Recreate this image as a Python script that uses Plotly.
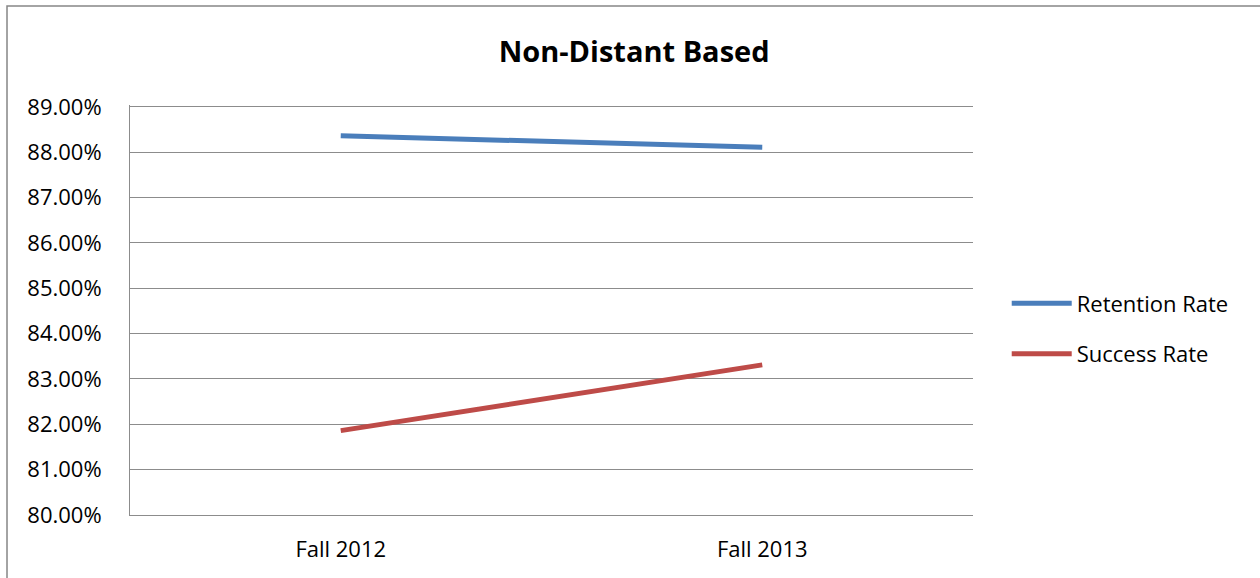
import plotly.graph_objs as go

# Daten
terms = ['Fall 2012', 'Fall 2013']
retention_rate = [0.8836, 0.8811]
success_rate = [0.8186, 0.8331]
y_ticks = [0.80, 0.81, 0.82, 0.83, 0.84, 0.85, 0.86, 0.87, 0.88, 0.89]

FONT = 'Open Sans, Noto Sans, sans-serif'
GRID = '#8c8c8c'

fig = go.Figure()

fig.add_trace(
    go.Scatter(
        x=terms,
        y=retention_rate,
        mode='lines',
        name='Retention Rate',
        legendgroup='a',
        line=dict(color='#4A7EBB', width=5)
    )
)

fig.add_trace(
    go.Scatter(
        x=terms,
        y=success_rate,
        mode='lines',
        name='Success Rate',
        legendgroup='b',
        line=dict(color='#BE4B48', width=5)
    )
)

# Rahmen um das ganze Diagramm
fig.add_shape(
    type='rect', xref='paper', yref='paper',
    x0=-0.1459, x1=1.343, y0=-0.1585, y1=1.2415,
    line=dict(color='#868686', width=1.5),
    fillcolor='rgba(0,0,0,0)', layer='above'
)

fig.update_layout(
    width=1260,
    height=578,
    margin=dict(l=130, r=287, t=105, b=63),
    paper_bgcolor='white',
    plot_bgcolor='white',
    font=dict(family=FONT, size=22, color='black'),
    title=dict(
        text='<b>Non-Distant Based</b>',
        x=0.598, xref='paper', xanchor='center',
        y=1 - 52 / 578, yanchor='middle',
        font=dict(family=FONT, size=29, color='black')
    ),
    showlegend=True,
    legend=dict(
        x=1.040, xanchor='left',
        y=0.454, yanchor='middle',
        tracegroupgap=19,
        itemwidth=60,
        font=dict(family=FONT, size=22, color='black'),
        bgcolor='rgba(0,0,0,0)'
    ),
    hovermode='x unified'
)

fig.update_xaxes(
    type='category',
    range=[-0.5, 1.5],
    showgrid=False,
    showline=True, linecolor=GRID, linewidth=1,
    ticks='', ticklabelstandoff=15,
    tickfont=dict(family=FONT, size=22)
)

fig.update_yaxes(
    range=[0.80, 0.8904],
    tickvals=y_ticks,
    tickformat='.2%',
    showgrid=True, gridcolor=GRID, gridwidth=1,
    showline=True, linecolor=GRID, linewidth=1,
    zeroline=False,
    ticks='', ticklabelstandoff=23,
    tickfont=dict(family=FONT, size=22)
)

# Browser-Standardrand entfernen, damit das Diagramm bei 0,0 beginnt
fig.write_html(
    'out.html',
    config={'displayModeBar': False},
    post_script="document.body.style.margin='0';"
)
